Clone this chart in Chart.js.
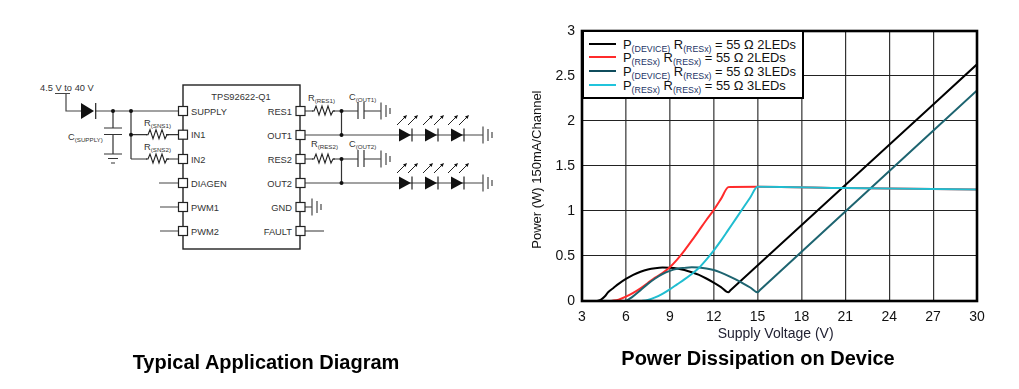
<!DOCTYPE html>
<html><head><meta charset="utf-8">
<script src="https://cdn.jsdelivr.net/npm/chart.js@4"></script>
<style>
html,body{margin:0;padding:0;background:#fff;width:1019px;height:389px;overflow:hidden;font-family:"Liberation Sans",Arial,sans-serif}
#wrap{position:absolute;left:0;top:0;width:1019px;height:389px}
#c{position:absolute;left:0;top:0}
#diagram{position:absolute;left:0;top:0}
#legend{position:absolute;left:582px;top:30px;width:218px;height:65px;background:#fff;border:2px solid #000;}
.row{position:absolute;left:39px;font-size:12.9px;line-height:14px;color:#111;white-space:nowrap}
.row sub{font-size:8.8px;line-height:0;vertical-align:-3px;color:#223366}
.swatch{position:absolute;left:5px;width:27px;height:2px}
.cap{position:absolute;font-weight:bold;font-size:20px;color:#000;white-space:nowrap;transform:translateX(-50%)}
svg text{font-family:"Liberation Sans",Arial,sans-serif;fill:#333}
</style></head><body>
<div id="wrap">
<svg id="diagram" width="1019" height="389" xmlns="http://www.w3.org/2000/svg">
 <defs>
  <path id="res" d="M0 0h2l2 -5 3 9 3 -9 3 9 3 -9 3 9 2 -4h2" fill="none" stroke="#222" stroke-width="1.1"/>
  <g id="led"><path d="M0 -6.5L12 0L0 6.5Z" fill="#111"/><path d="M13 -6.5V6.5" stroke="#222" stroke-width="1.2"/></g>
  <g id="arrows" stroke="#222" stroke-width="1" fill="#111">
   <path d="M0 10L9 1" fill="none"/><path d="M10 0L6 1.5L8.5 4Z" stroke="none"/>
   <path d="M11 10L20 1" fill="none"/><path d="M21 0L17 1.5L19.5 4Z" stroke="none"/>
  </g>
  <g id="gnd" stroke="#555" stroke-width="1.3"><path d="M0 -8.5V8.5M5 -6V6M9 -3V3"/></g>
 </defs>
 <g fill="none" stroke="#333" stroke-width="1.2">
  <rect x="183" y="85" width="117" height="164" stroke-width="1.4" stroke="#222"/>
  <path d="M55 93.5H70M66 93.5V111H81M95 111H178" stroke="#444"/>
  <path d="M113 111V128M104 128H122M104 134.5H122M113 134.5V154M104 154H122M108 158.5H118M111 163H115"/>
  <path d="M131 111V159M131 134.7H147M166 134.7H178M131 159H147M166 159H178"/>
  <path d="M159 183H178M160 207H178M160 231H178" stroke="#444"/>
  <path d="M305 111H313M333 111H358M358 102V119M364 102V119M364 111H381" />
  <path d="M305 159H313M333 159H358M358 150V167M364 150V167M364 159H381" />
  <path d="M341.5 111V135M341.5 159V183"/>
  <path d="M305 135H483M305 183H483" stroke="#444"/>
  <path d="M305 207H312M305 231H324"/>
 </g>
 <g fill="#fff" stroke="#222" stroke-width="1.2">
  <rect x="178.5" y="106.5" width="9" height="9"/><rect x="178.5" y="130.2" width="9" height="9"/><rect x="178.5" y="154.5" width="9" height="9"/>
  <rect x="178.5" y="178.5" width="9" height="9"/><rect x="178.5" y="202.5" width="9" height="9"/><rect x="178.5" y="226.5" width="9" height="9"/>
  <rect x="296" y="106.5" width="9" height="9"/><rect x="296" y="130.5" width="9" height="9"/><rect x="296" y="154.5" width="9" height="9"/>
  <rect x="296" y="178.5" width="9" height="9"/><rect x="296" y="202.5" width="9" height="9"/><rect x="296" y="226.5" width="9" height="9"/>
 </g>
 <path d="M81 103L94 111L81 119Z" fill="#111"/><path d="M95.7 103V119" stroke="#222" stroke-width="1.2"/>
 <g fill="#111"><circle cx="113" cy="111" r="2"/><circle cx="131" cy="111" r="2"/><circle cx="131" cy="134.7" r="2"/>
  <circle cx="341.5" cy="111" r="2"/><circle cx="341.5" cy="135" r="2"/><circle cx="341.5" cy="159" r="2"/><circle cx="341.5" cy="183" r="2"/></g>
 <use href="#res" x="146" y="134.7"/><use href="#res" x="146" y="159"/>
 <use href="#res" x="312" y="111"/><use href="#res" x="312" y="159"/>
 <use href="#led" x="399" y="135"/><use href="#led" x="425" y="135"/><use href="#led" x="451" y="135"/>
 <use href="#led" x="399" y="183"/><use href="#led" x="425" y="183"/><use href="#led" x="451" y="183"/>
 <use href="#arrows" x="397" y="115"/><use href="#arrows" x="423" y="115"/><use href="#arrows" x="448" y="115"/>
 <use href="#arrows" x="397" y="163"/><use href="#arrows" x="423" y="163"/><use href="#arrows" x="448" y="163"/>
 <use href="#gnd" x="483" y="135"/><use href="#gnd" x="483" y="183"/>
 <use href="#gnd" x="381" y="111"/><use href="#gnd" x="381" y="159"/><use href="#gnd" x="312" y="207"/>
 <g font-size="9.3">
  <text x="40" y="90.5">4.5 V to 40 V</text>
  <text x="241" y="100" text-anchor="middle">TPS92622-Q1</text>
  <text x="191" y="115">SUPPLY</text><text x="191" y="138">IN1</text><text x="191" y="162.5">IN2</text>
  <text x="191" y="186.5">DIAGEN</text><text x="191" y="211">PWM1</text><text x="191" y="235">PWM2</text>
  <text x="292" y="114.5" text-anchor="end">RES1</text><text x="292" y="138.5" text-anchor="end">OUT1</text>
  <text x="292" y="162.5" text-anchor="end">RES2</text><text x="292" y="186.5" text-anchor="end">OUT2</text>
  <text x="292" y="210.5" text-anchor="end">GND</text><text x="292" y="234.5" text-anchor="end">FAULT</text>
  <text x="68" y="140">C<tspan font-size="6.2" dy="1.5">(SUPPLY)</tspan></text>
  <text x="144" y="126">R<tspan font-size="6.2" dy="1.5">(SNS1)</tspan></text>
  <text x="144" y="150">R<tspan font-size="6.2" dy="1.5">(SNS2)</tspan></text>
  <text x="308" y="101">R<tspan font-size="6.2" dy="1.5">(RES1)</tspan></text>
  <text x="349" y="100">C<tspan font-size="6.2" dy="1.5">(OUT1)</tspan></text>
  <text x="311" y="147">R<tspan font-size="6.2" dy="1.5">(RES2)</tspan></text>
  <text x="349" y="147">C<tspan font-size="6.2" dy="1.5">(OUT2)</tspan></text>
 </g>
</svg>
<canvas id="c" width="1019" height="389"></canvas>
<div id="legend"></div>
<div class="cap" style="left:266px;top:351px">Typical Application Diagram</div>
<div class="cap" style="left:758px;top:347px">Power Dissipation on Device</div>
</div>
<script>
const xTickValues = [3,6,9,12,15,18,21,24,27,30];
const yTickValues = [0,0.5,1,1.5,2,2.5,3];

const deviceTwoV = [4,4.3,4.55,4.8,5.15,5.5,6,6.5,7,7.5,8,8.5,9,9.5,10,10.5,11,11.5,12,12.5,13,13.15,21,30];
const deviceTwoP = [0,0.015,0.05,0.1,0.145,0.19,0.245,0.29,0.325,0.35,0.365,0.372,0.37,0.362,0.345,0.32,0.29,0.25,0.205,0.155,0.097,0.119,1.289,2.63];

const resTwoV = [5,5.5,6,6.5,7,7.5,8,8.5,9,9.5,10,10.5,11,11.5,12,12.5,13,13.15,15,21,30];
const resTwoP = [0,0.015,0.048,0.09,0.14,0.2,0.26,0.31,0.375,0.46,0.56,0.67,0.785,0.9,1.01,1.135,1.265,1.268,1.27,1.255,1.24];

const deviceThreeV = [6,6.4,7,7.5,8,8.5,9,9.5,10,10.5,11,11.5,12,12.5,13,13.5,14,14.5,15,15.15,21,30];
const deviceThreeP = [0,0.04,0.12,0.19,0.25,0.3,0.335,0.358,0.368,0.375,0.372,0.362,0.344,0.315,0.28,0.24,0.197,0.15,0.097,0.12,0.994,2.34];

const resThreeV = [7,7.5,8,8.5,9,9.5,10,10.5,11,11.5,12,12.5,13,13.5,14,14.5,15,15.15,21,30];
const resThreeP = [0,0.012,0.04,0.08,0.13,0.185,0.24,0.3,0.37,0.46,0.56,0.67,0.79,0.91,1.03,1.15,1.27,1.27,1.255,1.24];

const seriesColors = ['#000000','#ff2b2b','#1d6470','#20bdd0'];
const legendColors = ['#000000','#ff2b2b','#0f4c5c','#20c4dc'];
const legendParts = [
 ['(DEVICE)','(RESx)','2LEDs'],
 ['(RESx)','(RESx)','2LEDs'],
 ['(DEVICE)','(RESx)','3LEDs'],
 ['(RESx)','(RESx)','3LEDs']
];
const legendTops = [6,19,33,47];
const swatchTops = [11,24,38,52];

const pts = (v,p)=>v.map((x,i)=>({x,y:p[i]}));
const mk = (label,v,p,color,order)=>({label,data:pts(v,p),borderColor:color,backgroundColor:color,borderWidth:2,pointRadius:0,cubicInterpolationMode:'monotone',order,borderJoinStyle:'round'});

const frame = {id:'frame',afterDatasetsDraw(ch){
  const a=ch.chartArea,g=ch.ctx;g.save();g.strokeStyle='#000';g.lineWidth=2.6;g.strokeRect(a.left,a.top,a.width,a.height);g.restore();
}};

Chart.defaults.font.family='"Liberation Sans",Arial,sans-serif';
new Chart(document.getElementById('c'),{
 type:'line',
 data:{datasets:[
  mk('P(DEVICE) R(RESx) = 55 Ω 2LEDs',deviceTwoV,deviceTwoP,seriesColors[0],3),
  mk('P(RESx) R(RESx) = 55 Ω 2LEDs',resTwoV,resTwoP,seriesColors[1],2),
  mk('P(DEVICE) R(RESx) = 55 Ω 3LEDs',deviceThreeV,deviceThreeP,seriesColors[2],1),
  mk('P(RESx) R(RESx) = 55 Ω 3LEDs',resThreeV,resThreeP,seriesColors[3],0)
 ]},
 plugins:[frame],
 options:{
  responsive:false,animation:false,
  layout:{padding:{left:530,right:42,top:31,bottom:46}},
  plugins:{legend:{display:false},title:{display:false},tooltip:{enabled:false}},
  scales:{
   x:{type:'linear',min:3,max:30,
    afterBuildTicks(s){s.ticks=xTickValues.map(value=>({value}));},
    afterFit(s){s.height=42;},
    grid:{color:c=>c.tick&&c.tick.value>=21?'#333':'#666',lineWidth:c=>c.tick&&c.tick.value>=21?1.2:1.6,drawTicks:false},
    border:{display:false},
    ticks:{autoSkip:false,maxRotation:0,font:{size:14},color:'#111',padding:8},
    title:{display:true,text:'Supply Voltage (V)\u00a0\u00a0',font:{size:14},color:'#223',padding:{top:0,bottom:0}}
   },
   y:{type:'linear',min:0,max:3,
    afterBuildTicks(s){s.ticks=yTickValues.map(value=>({value}));},
    afterFit(s){s.width=52;},
    grid:{color:'#222',lineWidth:1.1,drawTicks:false},
    border:{display:false},
    ticks:{autoSkip:false,font:{size:14},color:'#111',padding:7,callback:v=>String(v)},
    title:{display:true,text:'Power (W) 150mA/Channel\u00a0\u00a0',font:{size:13},color:'#111',padding:{top:0,bottom:2}}
   }
  }
 }
});

const lg=document.getElementById('legend');
legendParts.forEach((p,i)=>{
 const s=document.createElement('div');s.className='swatch';s.style.top=swatchTops[i]+'px';s.style.background=legendColors[i];lg.appendChild(s);
 const r=document.createElement('div');r.className='row';r.style.top=legendTops[i]+'px';
 r.innerHTML='P<sub>'+p[0]+'</sub> R<sub>'+p[1]+'</sub> = 55 Ω '+p[2];lg.appendChild(r);
});
</script>
</body></html>
